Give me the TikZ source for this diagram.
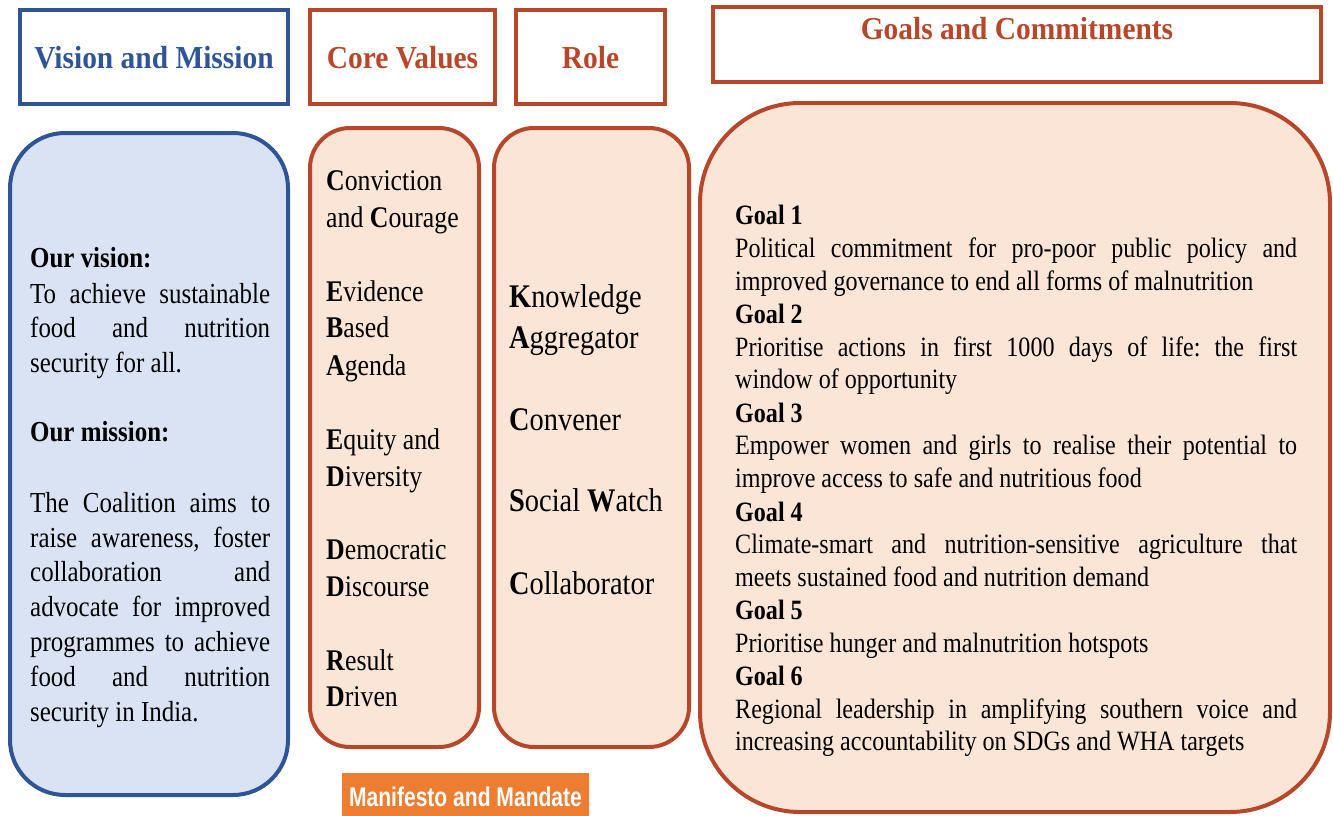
\documentclass[tikz,border=0pt]{standalone}
\usepackage{fontspec}
\setmainfont{Liberation Serif}[FakeStretch=0.86]
\newfontfamily\headfont{Liberation Serif}[FakeStretch=0.92]
\newfontfamily\tagfont{Liberation Sans}[FakeStretch=0.78]
\definecolor{visionblue}{HTML}{2F5597}
\definecolor{visionfill}{HTML}{DAE3F3}
\definecolor{rust}{HTML}{B7472A}
\definecolor{peach}{HTML}{FBE5D6}
\definecolor{tagorange}{HTML}{ED7D31}
\newcommand{\jline}[2]{\makebox[#1pt][s]{#2}}
\frenchspacing
\begin{document}
\begin{tikzpicture}[x=1pt,y=-1pt,
  headbox/.style={draw=#1, line width=4pt, fill=white, inner sep=0pt},
  panel/.style={draw=rust, line width=4pt, fill=peach, inner sep=0pt},
  headtxt/.style={font=\headfont\fontsize{32}{36}\selectfont\bfseries, text=#1, anchor=base, inner sep=0pt},
  txt/.style={anchor=base west, inner sep=0pt, font=\fontsize{29}{34}\selectfont},
  coretxt/.style={anchor=base west, inner sep=0pt, font=\fontsize{30}{35}\selectfont},
  roletxt/.style={anchor=base west, inner sep=0pt, font=\fontsize{33}{38}\selectfont},
  goaltxt/.style={anchor=base west, inner sep=0pt, font=\fontsize{28}{33}\selectfont}]
\useasboundingbox (0,0) rectangle (1333,816);

% column headers
\node[headbox=visionblue, minimum width=268pt, minimum height=94pt] (hvision) at (154,57) {};
\node[headbox=rust, minimum width=185pt, minimum height=94pt] (hcore) at (402.5,57) {};
\node[headbox=rust, minimum width=149pt, minimum height=94pt] (hrole) at (590.5,57) {};
\node[headbox=rust, minimum width=608pt, minimum height=75pt] (hgoals) at (1017,44.5) {};
\node[headtxt=visionblue] (tvision) at (154,68) {Vision and Mission};
\node[headtxt=rust] (tcore) at (402.5,68) {Core Values};
\node[headtxt=rust] (trole) at (590.5,68) {Role};
\node[headtxt=rust] (tgoals) at (1017,40) {Goals and Commitments};

% column panels
\node[draw=visionblue, line width=4pt, fill=visionfill, rounded corners=55pt,
      minimum width=278pt, minimum height=662pt, inner sep=0pt] (pvision) at (149,464) {};
\node[panel, rounded corners=40pt, minimum width=169pt, minimum height=619pt] (pcore) at (394.5,437.5) {};
\node[panel, rounded corners=40pt, minimum width=195pt, minimum height=619pt] (prole) at (591.5,437.5) {};
\node[panel, rounded corners=100pt, minimum width=630pt, minimum height=709pt] (pgoals) at (1015,457.5) {};

% vision and mission
\node[txt] (v1) at (30,267) {\textbf{Our vision:}};
\node[txt] (v2) at (30,303) {\jline{240}{To achieve sustainable}};
\node[txt] (v3) at (30,337) {\jline{240}{food and nutrition}};
\node[txt] (v4) at (30,372) {security for all.};
\node[txt] (m1) at (30,441) {\textbf{Our mission:}};
\node[txt] (m2) at (30,512) {\jline{240}{The Coalition aims to}};
\node[txt] (m3) at (30,547) {\jline{240}{raise awareness, foster}};
\node[txt] (m4) at (30,581) {\jline{240}{collaboration and}};
\node[txt] (m5) at (30,616) {\jline{240}{advocate for improved}};
\node[txt] (m6) at (30,651) {\jline{240}{programmes to achieve}};
\node[txt] (m7) at (30,686) {\jline{240}{food and nutrition}};
\node[txt] (m8) at (30,721) {security in India.};

% core values
\node[coretxt] (c1) at (326,190) {\textbf{C}onviction};
\node[coretxt] (c2) at (326,227) {and \textbf{C}ourage};
\node[coretxt] (c3) at (326,301) {\textbf{E}vidence};
\node[coretxt] (c4) at (326,337) {\textbf{B}ased};
\node[coretxt] (c5) at (326,375) {\textbf{A}genda};
\node[coretxt] (c6) at (326,449) {\textbf{E}quity and};
\node[coretxt] (c7) at (326,486) {\textbf{D}iversity};
\node[coretxt] (c8) at (326,559) {\textbf{D}emocratic};
\node[coretxt] (c9) at (326,596) {\textbf{D}iscourse};
\node[coretxt] (c10) at (326,670) {\textbf{R}esult};
\node[coretxt] (c11) at (326,706) {\textbf{D}riven};

% role
\node[roletxt] (r1) at (509,307) {\textbf{K}nowledge};
\node[roletxt] (r2) at (509,348) {\textbf{A}ggregator};
\node[roletxt] (r3) at (509,430) {\textbf{C}onvener};
\node[roletxt] (r4) at (509,511) {\textbf{S}ocial \textbf{W}atch};
\node[roletxt] (r5) at (509,594) {\textbf{C}ollaborator};

% goals and commitments
\node[goaltxt] (g1) at (735,224) {\textbf{Goal 1}};
\node[goaltxt] (g1a) at (735,257) {\jline{562}{Political commitment for pro-poor public policy and}};
\node[goaltxt] (g1b) at (735,290) {improved governance to end all forms of malnutrition};
\node[goaltxt] (g2) at (735,323) {\textbf{Goal 2}};
\node[goaltxt] (g2a) at (735,356) {\jline{562}{Prioritise actions in first 1000 days of life: the first}};
\node[goaltxt] (g2b) at (735,388) {window of opportunity};
\node[goaltxt] (g3) at (735,422) {\textbf{Goal 3}};
\node[goaltxt] (g3a) at (735,454) {\jline{562}{Empower women and girls to realise their potential to}};
\node[goaltxt] (g3b) at (735,487) {improve access to safe and nutritious food};
\node[goaltxt] (g4) at (735,521) {\textbf{Goal 4}};
\node[goaltxt] (g4a) at (735,553) {\jline{562}{Climate-smart and nutrition-sensitive agriculture that}};
\node[goaltxt] (g4b) at (735,586) {meets sustained food and nutrition demand};
\node[goaltxt] (g5) at (735,619) {\textbf{Goal 5}};
\node[goaltxt] (g5a) at (735,652) {Prioritise hunger and malnutrition hotspots};
\node[goaltxt] (g6) at (735,685) {\textbf{Goal 6}};
\node[goaltxt] (g6a) at (735,718) {\jline{562}{Regional leadership in amplifying southern voice and}};
\node[goaltxt] (g6b) at (735,750) {increasing accountability on SDGs and WHA targets};

% bottom tag
\begin{scope}
\clip (0,0) rectangle (1333,816);
\node[fill=tagorange, minimum width=247pt, minimum height=45pt, inner sep=0pt] (tag) at (465.5,795.5) {};
\end{scope}
\node[anchor=base, inner sep=0pt, text=white, font=\tagfont\bfseries\fontsize{27}{30}\selectfont] (tagtxt) at (465.5,806) {Manifesto and Mandate};
\end{tikzpicture}
\end{document}
